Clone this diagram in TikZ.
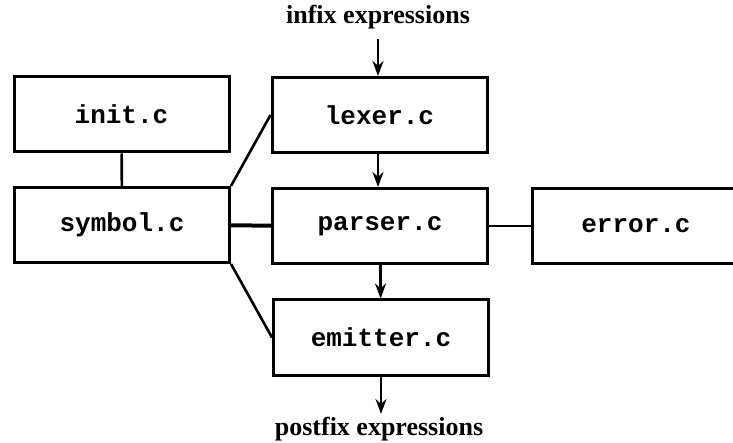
\documentclass[tikz,border=0pt]{standalone}
\usepackage{fontspec}
\setmainfont{Liberation Serif}
\newfontfamily\monofam{Liberation Mono}
\usetikzlibrary{arrows.meta}
\begin{document}
\begin{tikzpicture}[x=1pt,y=-1pt,
  modbox/.style={draw, line width=3pt, rectangle, minimum width=215pt, minimum height=75pt, inner sep=0pt,
    font=\monofam\bfseries\fontsize{26}{30}\selectfont},
  lbl/.style={font=\bfseries\fontsize{26}{30}\selectfont, inner sep=0pt},
  link/.style={line width=2.6pt},
  thick link/.style={line width=4pt},
  flow/.style={line width=2.8pt, -{Stealth[length=15pt,width=11pt]}}]
\useasboundingbox (0,0) rectangle (733,443);
\clip (0,0) rectangle (733,443);
\node[modbox] (init) at (121.5,114.5) {init.c};
\node[modbox] (symbol) at (122,225) {symbol.c};
\node[modbox] (lexer) at (379.5,115) {lexer.c};
\node[modbox] (parser) at (380,226) {parser.c};
\node[modbox] (emitter) at (381,337.5) {emitter.c};
\node[modbox, minimum width=300pt, anchor=west] (error) at (531,226) {};
\node[font=\monofam\bfseries\fontsize{26}{30}\selectfont] (errlbl) at (636,226) {error.c};
\node[lbl] (infix) at (378,17) {infix expressions};
\node[lbl] (postfix) at (379,429) {postfix expressions};
\coordinate (infixend) at (378,39);
\coordinate (postfixend) at (381,414);
\draw[link] (init) -- (symbol);
\draw[link] (symbol.north east) -- (lexer.west);
\draw[link] (symbol.south east) -- (emitter.west);
\draw[thick link] (symbol) -- (parser);
\draw[link] (parser) -- (error);
\draw[flow] (infixend) -- (lexer.north -| infixend);
\draw[flow] (lexer.south -| infixend) -- (parser.north -| infixend);
\draw[flow] (parser) -- (emitter);
\draw[flow] (emitter.south -| postfixend) -- (postfixend);
\end{tikzpicture}
\end{document}
